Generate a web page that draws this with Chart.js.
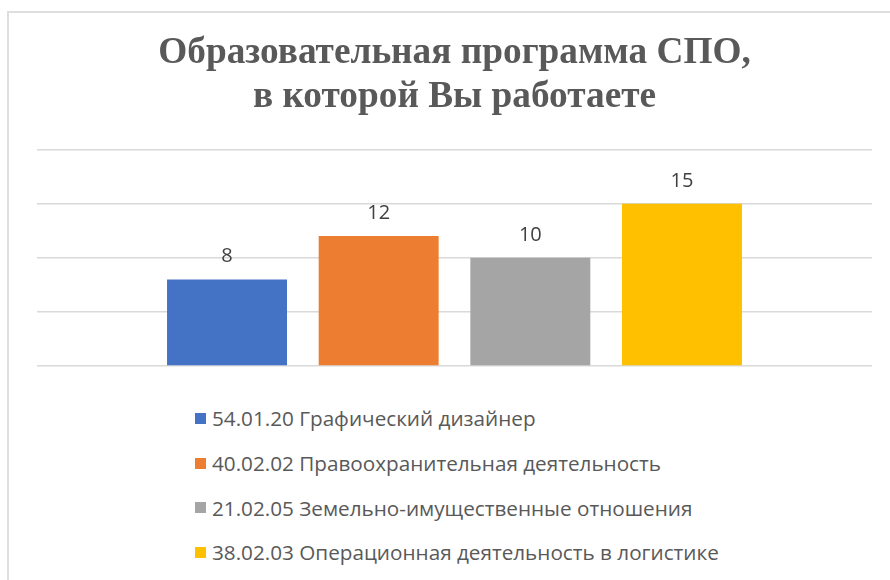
<!DOCTYPE html>
<html>
<head>
<meta charset="utf-8">
<script src="https://cdn.jsdelivr.net/npm/chart.js@4/dist/chart.umd.min.js"></script>
<style>
    html, body { margin: 0; padding: 0; background: #fff; overflow: hidden; }
    #frame {
        position: absolute; left: 7px; top: 11px; width: 1000px; height: 1000px;
        border-left: 2px solid #dedede; border-top: 2px solid #dedede;
    }
    #wrap { position: absolute; left: 0; top: 0; width: 890px; height: 380px; }
    #legend {
        position: absolute; left: 195px; top: 396px;
        font-family: "Open Sans", sans-serif; font-size: 20.7px; color: #595959;
    }
    .item { height: 44.7px; display: flex; align-items: center; white-space: nowrap; }
    .box { width: 11px; height: 11px; margin-right: 6px; flex: none; }
</style>
</head>
<body>
<div id="frame"></div>
<div id="wrap"><canvas id="myChart" width="890" height="380"></canvas></div>
<div id="legend"></div>
<script>
const titleLines = ['Образовательная программа СПО,', 'в которой Вы работаете'];
const categories = [''];
const seriesNames = [
    '54.01.20 Графический дизайнер',
    '40.02.02 Правоохранительная деятельность',
    '21.02.05 Земельно-имущественные отношения',
    '38.02.03 Операционная деятельность в логистике'
];
const seriesValues = [8, 12, 10, 15];
const seriesColors = ['#4472C4', '#ED7D31', '#A5A5A5', '#FFC000'];
const yMin = 0;
const yMax = 20;
const yStep = 5;

// value labels above the bars
const barLabels = {
    id: 'barLabels',
    afterDatasetsDraw(chart) {
        const ctx = chart.ctx;
        ctx.save();
        ctx.font = '20px "Open Sans", sans-serif';
        ctx.fillStyle = '#404040';
        ctx.textAlign = 'center';
        ctx.textBaseline = 'alphabetic';
        chart.data.datasets.forEach((ds, i) => {
            chart.getDatasetMeta(i).data.forEach((bar, j) => {
                ctx.fillText(String(ds.data[j]), bar.x, bar.y - 17);
            });
        });
        ctx.restore();
    }
};

const ctx = document.getElementById('myChart').getContext('2d');
const myChart = new Chart(ctx, {
    type: 'bar',
    data: {
        labels: categories,
        datasets: seriesNames.map((name, i) => ({
            label: name,
            data: [seriesValues[i]],
            backgroundColor: seriesColors[i],
            barPercentage: 0.791,
            categoryPercentage: 0.7265
        }))
    },
    options: {
        responsive: false,
        animation: false,
        layout: { padding: { left: 37, right: 18, top: 0, bottom: 14 } },
        plugins: {
            legend: { display: false },
            tooltip: { enabled: false },
            title: {
                display: true,
                text: titleLines,
                color: '#595959',
                font: { family: '"Liberation Serif", "Times New Roman", serif', size: 37.3, weight: 'bold', lineHeight: 1.16 },
                padding: { top: 32, bottom: 31 }
            }
        },
        scales: {
            x: {
                display: false
            },
            y: {
                min: yMin,
                max: yMax,
                ticks: { display: false, stepSize: yStep },
                grid: { color: '#d9d9d9', lineWidth: 1.5, drawTicks: false },
                border: { display: false }
            }
        }
    },
    plugins: [barLabels]
});

// legend as a vertical list under the chart
const legendDiv = document.getElementById('legend');
seriesNames.forEach((name, i) => {
    const row = document.createElement('div');
    row.className = 'item';
    const box = document.createElement('span');
    box.className = 'box';
    box.style.background = seriesColors[i];
    const txt = document.createElement('span');
    txt.textContent = name;
    row.appendChild(box);
    row.appendChild(txt);
    legendDiv.appendChild(row);
});
</script>
</body>
</html>
